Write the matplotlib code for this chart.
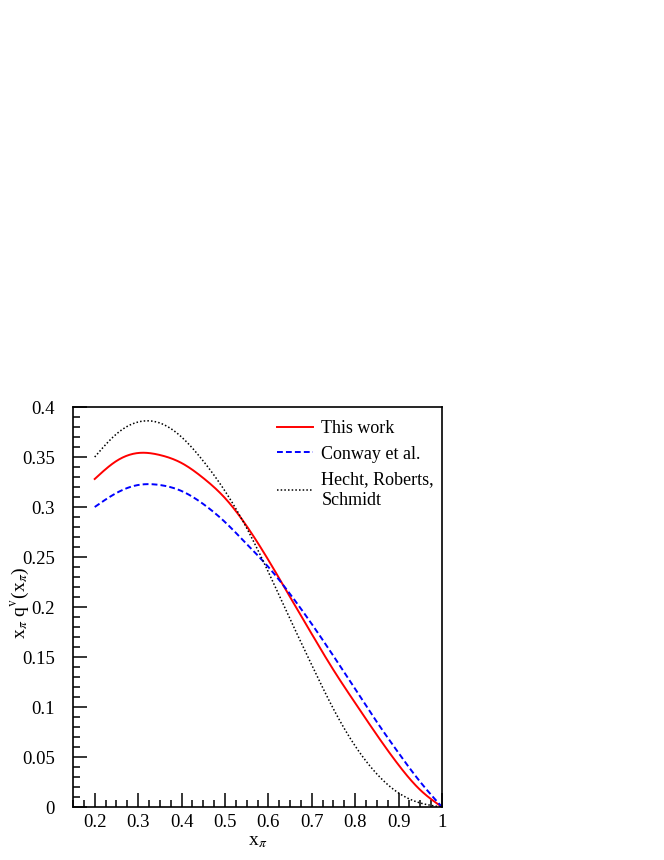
import numpy as np
import matplotlib.pyplot as plt
from matplotlib.ticker import MultipleLocator, FuncFormatter

plt.rcParams['font.family'] = ['Liberation Serif', 'DejaVu Serif']
plt.rcParams['mathtext.fontset'] = 'stix'

# values
x = [0.20, 0.25, 0.30, 0.35, 0.40, 0.45, 0.50, 0.55, 0.60,
     0.65, 0.70, 0.75, 0.80, 0.85, 0.90, 0.95, 1.00]
this_work = [0.328, 0.346, 0.354, 0.352, 0.344, 0.329, 0.309, 0.281, 0.247,
             0.210, 0.173, 0.137, 0.104, 0.072, 0.042, 0.017, 0.0]
conway = [0.300, 0.314, 0.322, 0.322, 0.316, 0.303, 0.285, 0.263, 0.240,
          0.213, 0.183, 0.151, 0.118, 0.085, 0.054, 0.025, 0.0]
hecht = [0.350, 0.373, 0.385, 0.384, 0.370, 0.346, 0.316, 0.279, 0.235,
         0.188, 0.142, 0.098, 0.061, 0.033, 0.014, 0.004, 0.0]

def smooth(xs, ys, n=400):
    # natural cubic spline through the read points, only to draw a smooth line
    xs = np.asarray(xs, float); ys = np.asarray(ys, float)
    k = len(xs)
    h = np.diff(xs)
    A = np.zeros((k, k)); r = np.zeros(k)
    A[0, 0] = A[-1, -1] = 1
    for j in range(1, k - 1):
        A[j, j - 1] = h[j - 1]
        A[j, j] = 2 * (h[j - 1] + h[j])
        A[j, j + 1] = h[j]
        r[j] = 6 * ((ys[j + 1] - ys[j]) / h[j] - (ys[j] - ys[j - 1]) / h[j - 1])
    M = np.linalg.solve(A, r)
    xf = np.linspace(xs[0], xs[-1], n)
    i = np.clip(np.searchsorted(xs, xf, side='right') - 1, 0, k - 2)
    a = xs[i + 1] - xf
    b = xf - xs[i]
    hh = h[i]
    yf = (M[i] * a**3 / (6 * hh) + M[i + 1] * b**3 / (6 * hh)
          + (ys[i] / hh - M[i] * hh / 6) * a + (ys[i + 1] / hh - M[i + 1] * hh / 6) * b)
    return xf, yf

fig = plt.figure(figsize=(6.64, 8.6), dpi=100)
ax = fig.add_axes([73/664, 1 - 807/860, (442 - 73)/664, (807 - 407)/860])

xs, ys = smooth(x, this_work)
ax.plot(xs, ys, color='red', lw=1.4, label='This work')
xs, ys = smooth(x, conway)
ax.plot(xs, ys, color='blue', lw=1.4, ls=(0, (3, 1.6)), label='Conway et al.')
xs, ys = smooth(x, hecht)
ax.plot(xs, ys, color='black', lw=1.1, ls=(0, (1, 1.4)), label='Hecht, Roberts,\nSchmidt')

ax.set_xlim(0.15, 1.0)
ax.set_ylim(0, 0.4)
ax.xaxis.set_major_locator(MultipleLocator(0.1))
ax.xaxis.set_minor_locator(MultipleLocator(0.025))
ax.yaxis.set_major_locator(MultipleLocator(0.05))
ax.yaxis.set_minor_locator(MultipleLocator(0.01))

fmt = FuncFormatter(lambda v, p: ('%g' % round(v, 3)))
ax.xaxis.set_major_formatter(fmt)
ax.yaxis.set_major_formatter(fmt)

ax.tick_params(which='both', direction='in', top=False, right=False,
               labelsize=13.5, width=1.1)
ax.tick_params(which='major', length=10)
ax.tick_params(which='minor', length=5)
ax.tick_params(axis='x', which='major', pad=5)
ax.tick_params(axis='y', which='major', pad=13)
for s in ax.spines.values():
    s.set_linewidth(1.2)

ax.set_xlabel(r'x$_{\pi}$', fontsize=14)
ax.xaxis.set_label_coords(0.5, -0.066)
ax.set_ylabel(r'x$_{\pi}$ q$^{\mathrm{v}}$(x$_{\pi}$)', fontsize=14)
ax.yaxis.set_label_coords(-0.114, 0.51)

leg = ax.legend(loc='upper left', bbox_to_anchor=(0.553, 0.967), frameon=False,
                fontsize=13, handlelength=2.0, handletextpad=0.45,
                labelspacing=0.47, borderpad=0, borderaxespad=0)
for t in leg.get_texts():
    t.set_linespacing(1.3)

fig.savefig('out.png', dpi=100)
